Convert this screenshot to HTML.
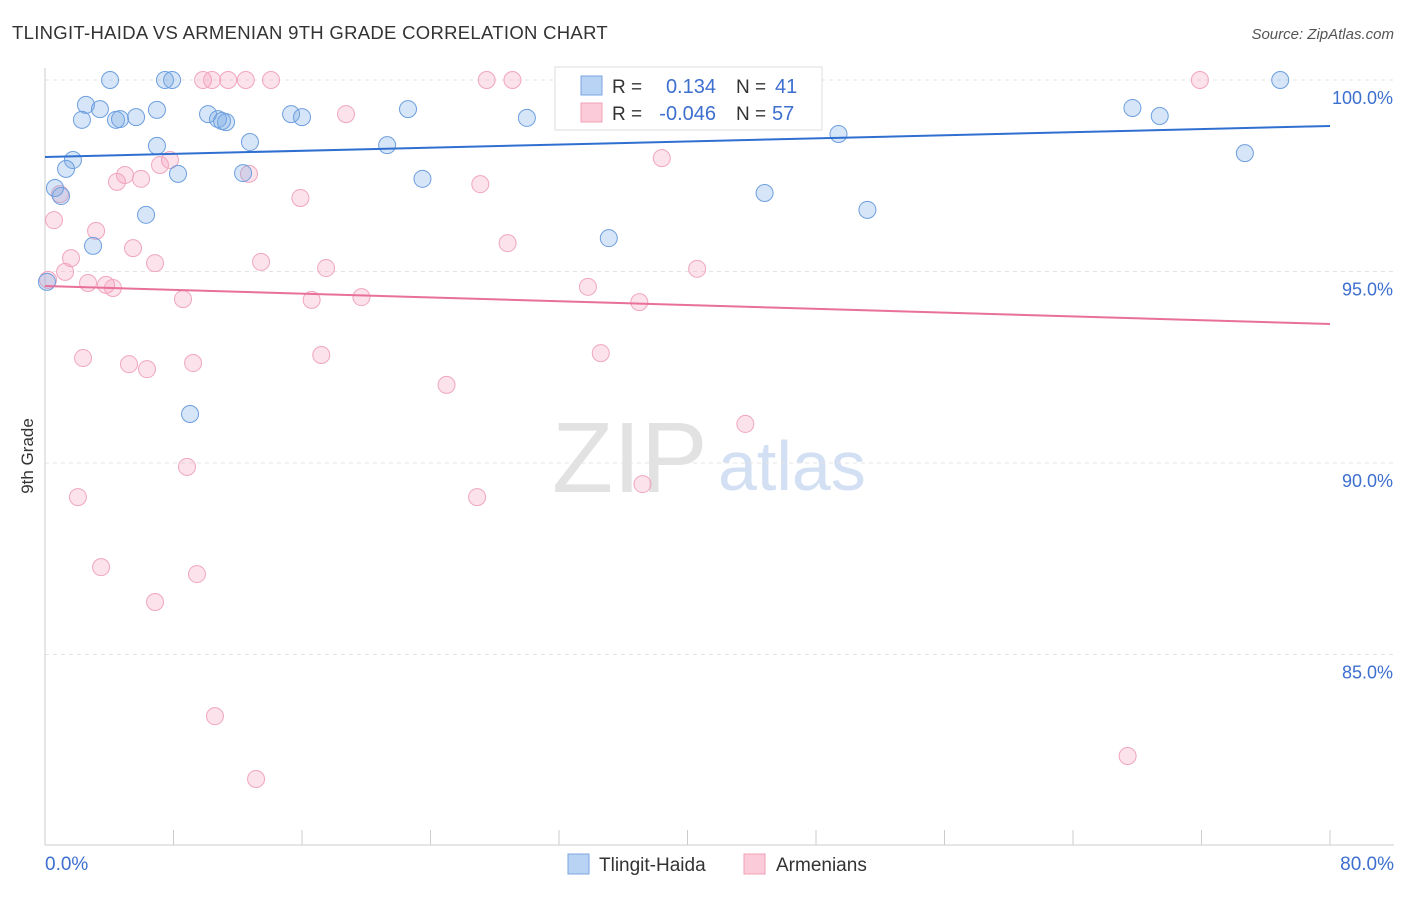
<!DOCTYPE html>
<html><head><meta charset="utf-8"><style>
body{margin:0;background:#fff;font-family:"Liberation Sans",sans-serif}
svg text{font-family:"Liberation Sans",sans-serif}
</style></head><body>
<svg id="c" width="1406" height="892">
<text x="12" y="39" font-size="18.5" letter-spacing="0.3" fill="#333">TLINGIT-HAIDA VS ARMENIAN 9TH GRADE CORRELATION CHART</text>
<text x="1394" y="39" font-size="15" fill="#555" font-style="italic" text-anchor="end">Source: ZipAtlas.com</text>
<text x="33" y="456" font-size="17" fill="#333" transform="rotate(-90 33 456)" text-anchor="middle">9th Grade</text>
<text x="552" y="492" font-size="100" fill="#e2e2e2" font-family="Liberation Serif">ZIP</text>
<text x="718" y="490" font-size="70" fill="#d3e0f3">atlas</text>
<g id="grid"></g><g id="ticks"></g><g id="pts"></g><g id="lines"></g>
<g>
<rect x="555" y="67" width="267" height="63" fill="#fff" stroke="#ddd"/>
<rect x="581" y="76" width="21" height="19" fill="#b9d3f5" stroke="#7aa6e0"/>
<rect x="581" y="103" width="21" height="19" fill="#fbcbd9" stroke="#f0a0b8"/>
<text x="612" y="93" font-size="19" fill="#333">R =</text>
<text x="716" y="93" font-size="20" fill="#3d6fcf" text-anchor="end">0.134</text>
<text x="736" y="93" font-size="19" fill="#333">N =</text>
<text x="775" y="93" font-size="20" fill="#3d6fcf">41</text>
<text x="612" y="120" font-size="19" fill="#333">R =</text>
<text x="716" y="120" font-size="20" fill="#3d6fcf" text-anchor="end">-0.046</text>
<text x="736" y="120" font-size="19" fill="#333">N =</text>
<text x="772" y="120" font-size="20" fill="#3d6fcf">57</text>
</g>
<g>
<rect x="568" y="854" width="21" height="20" fill="#b9d3f5" stroke="#7aa6e0"/>
<text x="599" y="871" font-size="19" fill="#333">Tlingit-Haida</text>
<rect x="744" y="854" width="21" height="20" fill="#fbcbd9" stroke="#f0a0b8"/>
<text x="776" y="871" font-size="19" fill="#333">Armenians</text>
</g>
<text x="45" y="870" font-size="19" fill="#3d6fcf">0.0%</text>
<text x="1394" y="870" font-size="19" fill="#3d6fcf" text-anchor="end">80.0%</text>
</svg>
<script>
const yTicks=[100,95,90,85];
const blueX=[4.05,7.47,7.91,36.6,76.9,2.55,3.42,6.97,22.6,2.30,4.42,4.67,5.67,10.15,10.77,11.27,15.32,16.0,30.0,67.7,69.4,12.76,6.97,21.3,49.4,74.7,1.74,1.31,8.28,12.33,23.5,0.62,1.0,44.8,6.29,51.2,35.1,2.99,0.12,9.03,11.02];
const blueY=[100,100,100,100,100,99.35,99.24,99.22,99.24,98.96,98.96,98.98,99.03,99.11,98.98,98.90,99.11,99.03,99.01,99.27,99.06,98.38,98.28,98.30,98.59,98.09,97.91,97.68,97.55,97.57,97.42,97.18,96.97,97.05,96.48,96.61,95.87,95.67,94.73,91.28,98.93];
const pinkX=[9.84,10.4,11.4,12.5,14.07,27.5,29.1,32.8,71.9,18.74,7.78,7.16,38.4,4.98,4.48,5.98,12.7,27.1,15.9,0.93,0.56,3.18,28.8,5.48,6.85,13.45,1.62,1.25,17.5,40.6,2.68,3.80,4.23,0.19,33.8,8.59,16.6,19.7,37.0,2.37,5.23,6.35,9.22,17.2,34.6,25.0,43.6,8.84,2.05,26.9,37.2,3.49,9.46,6.85,10.58,13.14,67.4];
const pinkY=[100,100,100,100,100,100,100,100,100,99.11,97.91,97.78,97.96,97.52,97.34,97.42,97.55,97.28,96.92,97.02,96.34,96.06,95.74,95.61,95.22,95.25,95.35,94.99,95.09,95.07,94.70,94.65,94.57,94.78,94.60,94.28,94.26,94.33,94.20,92.74,92.58,92.45,92.61,92.82,92.87,92.04,91.02,89.90,89.11,89.11,89.45,87.28,87.10,86.37,83.39,81.75,82.35];
const blueTrend=[97.99,98.80];
const pinkTrend=[94.62,93.63];
const NS="http://www.w3.org/2000/svg";
const X=v=>45+v/80*1285, Y=v=>80+(100-v)*38.3;
function mk(t,a,p){const e=document.createElementNS(NS,t);for(const k in a)e.setAttribute(k,a[k]);document.getElementById(p).appendChild(e);return e;}
yTicks.forEach(t=>{
 const l=mk('line',{x1:45,x2:1394,y1:Y(t),y2:Y(t),stroke:'#e4e4e4','stroke-dasharray':'4,4'},'grid');
 
 
 const tx=mk('text',{x:1393,y:Y(t)+24,'font-size':18,fill:'#3d6fcf','text-anchor':'end'},'grid');
 tx.textContent=t.toFixed(1)+'%';
 
 
});
mk('line',{x1:45,x2:45,y1:68,y2:845,stroke:'#ccc'},'ticks');
mk('line',{x1:45,x2:1394,y1:845,y2:845,stroke:'#ccc'},'ticks');
for(let i=0;i<=10;i++){const x=X(i*8);const t=mk('line',{x1:x,x2:x,y1:830,y2:845,stroke:'#ccc'},'ticks');
 
 }
function dots(xs,ys,f,s,n){xs.forEach((v,i)=>{const c=mk('circle',{cx:X(v),cy:Y(ys[i]),r:8.5,fill:f,stroke:s,'stroke-width':1},'pts');
 
 });}
dots(pinkX,pinkY,'rgba(244,160,188,0.3)','#f0a6be','armenian-point');
dots(blueX,blueY,'rgba(120,170,230,0.3)','#6d9fdf','tlingit-point');
const b=mk('line',{x1:X(0),x2:X(80),y1:Y(blueTrend[0]),y2:Y(blueTrend[1]),stroke:'#2f6fd0','stroke-width':2},'lines');


const p=mk('line',{x1:X(0),x2:X(80),y1:Y(pinkTrend[0]),y2:Y(pinkTrend[1]),stroke:'#e8709a','stroke-width':2},'lines');


</script>
</body></html>
